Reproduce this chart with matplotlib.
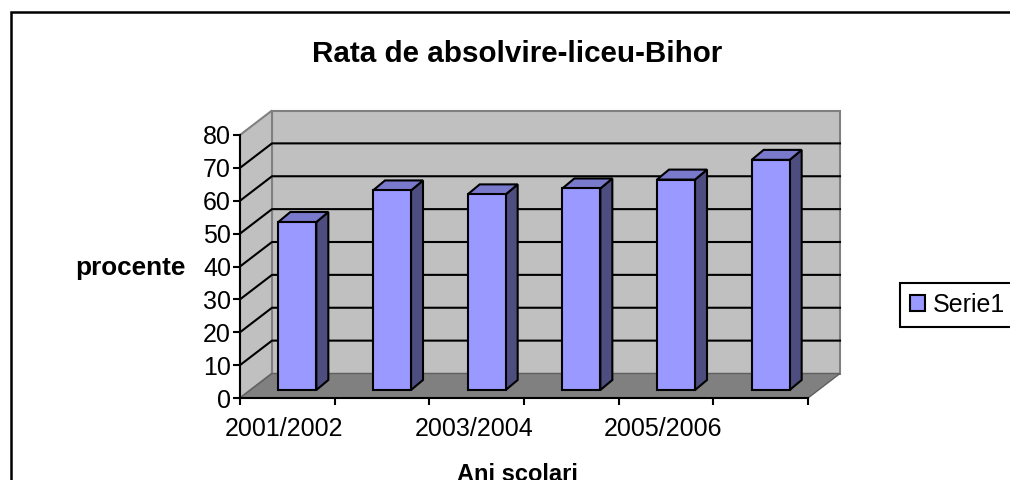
import matplotlib
matplotlib.use('Agg')
import matplotlib.pyplot as plt
from matplotlib.patches import Polygon, Rectangle

plt.rcParams['font.family'] = ['Liberation Sans', 'DejaVu Sans']

CATEGORIES = ['2001/2002', '2002/2003', '2003/2004', '2004/2005', '2005/2006', '2006/2007']
VALUES = [51.1, 60.7, 59.5, 61.3, 64, 70]
Y_TICKS = [0, 10, 20, 30, 40, 50, 60, 70, 80]

WIDTH, HEIGHT = 1010, 480
FRONT_LEFT, FRONT_RIGHT = 240, 808
FRONT_BOTTOM, FRONT_TOP = 398, 135

BAR_FRONT = '#9999FF'
BAR_TOP = '#7A7ACC'
BAR_SIDE = '#4D4D80'
WALL = '#C0C0C0'
FLOOR = '#808080'
EDGE = '#808080'

fig = plt.figure(figsize=(WIDTH / 100, HEIGHT / 100), dpi=100)
fig.patch.set_facecolor('white')
ax = fig.add_axes([FRONT_LEFT / WIDTH, 1 - FRONT_BOTTOM / HEIGHT,
                   (FRONT_RIGHT - FRONT_LEFT) / WIDTH,
                   (FRONT_BOTTOM - FRONT_TOP) / HEIGHT])
ax.set_xlim(0, len(CATEGORIES))
ax.set_ylim(0, Y_TICKS[-1])
ax.patch.set_visible(False)

# pixels to data units, for the fake 3D depth
px_x = len(CATEGORIES) / (FRONT_RIGHT - FRONT_LEFT)
px_y = Y_TICKS[-1] / (FRONT_BOTTOM - FRONT_TOP)
dx, dy = 32 * px_x, 24.5 * px_y
top = Y_TICKS[-1]
n = len(CATEGORIES)


def add_poly(points, color, edge, lw, z):
    ax.add_patch(Polygon(points, closed=True, facecolor=color, edgecolor=edge,
                         linewidth=lw, zorder=z, clip_on=False, joinstyle='miter'))


# walls and floor
add_poly([(dx, dy), (n + dx, dy), (n + dx, top + dy), (dx, top + dy)], WALL, EDGE, 1.5, 1)
add_poly([(0, 0), (dx, dy), (dx, top + dy), (0, top)], WALL, EDGE, 1.5, 1)
add_poly([(0, 0), (n, 0), (n + dx, dy), (dx, dy)], FLOOR, '#606060', 1, 1)

# gridlines on back and left wall
for v in Y_TICKS[1:-1]:
    ax.plot([0, dx, n + dx], [v, v + dy, v + dy], color='black', lw=1.5,
            zorder=2, clip_on=False, solid_joinstyle='miter')

# bars
bar_w = 38 * px_x
off_x, off_y = 10 * px_x, 8 * px_y
side_x, side_y = 12 * px_x, 10 * px_y
for i, v in enumerate(VALUES):
    x0 = i + 0.5 - bar_w / 2 + off_x
    x1 = x0 + bar_w
    y0 = off_y
    y1 = v + off_y
    add_poly([(x1, y0), (x1 + side_x, y0 + side_y), (x1 + side_x, y1 + side_y), (x1, y1)],
             BAR_SIDE, 'black', 1.5, 3)
    add_poly([(x0, y1), (x1, y1), (x1 + side_x, y1 + side_y), (x0 + side_x, y1 + side_y)],
             BAR_TOP, 'black', 1.5, 3)
    ax.bar(x0, v, width=bar_w, bottom=y0, align='edge', color=BAR_FRONT,
           edgecolor='black', linewidth=1.5, zorder=4, clip_on=False)

# axes
for s in ['top', 'right']:
    ax.spines[s].set_visible(False)
for s in ['left', 'bottom']:
    ax.spines[s].set_linewidth(1.5)
    ax.spines[s].set_zorder(5)
ax.set_yticks(Y_TICKS)
ax.tick_params(axis='y', labelsize=18, length=5, width=1.5, pad=1.5)
ax.set_xticks(range(n + 1))
ax.set_xticklabels([])
ax.set_xticks([i + 0.5 - 3 * px_x for i in range(n)], minor=True)
ax.set_xticklabels([c if i % 2 == 0 else '' for i, c in enumerate(CATEGORIES)],
                   minor=True, fontsize=18)
ax.tick_params(axis='x', which='major', length=5, width=1.5)
ax.tick_params(axis='x', which='minor', length=0, pad=13.5)

# titles
fig.text(517 / WIDTH, 1 - 54.5 / HEIGHT, 'Rata de absolvire-liceu-Bihor', ha='center',
         va='center', fontsize=21.3, fontweight='bold')
fig.text(130 / WIDTH, 1 - 268 / HEIGHT, 'procente', ha='center', va='center',
         fontsize=18.8, fontweight='bold')
fig.text(517 / WIDTH, 1 - 481 / HEIGHT, 'Ani scolari', ha='center', va='baseline',
         fontsize=17, fontweight='bold')

# legend, runs past the right side of the picture like the border does
legend = fig.legend([Rectangle((0, 0), 1, 1, facecolor=BAR_FRONT, edgecolor='black', linewidth=1.5)],
                    ['Serie1'], loc='center left',
                    bbox_to_anchor=(900 / WIDTH, 1 - 304.5 / HEIGHT), fontsize=18,
                    frameon=True, fancybox=False, framealpha=1, edgecolor='black',
                    handlelength=0.6, handleheight=0.6, handletextpad=0.32,
                    borderaxespad=0, borderpad=0.4)
legend.get_frame().set_linewidth(1.5)

# chart area border, open on the right and bottom
fig.add_artist(plt.Line2D([11 / WIDTH, 11 / WIDTH, 1], [0, 1 - 11.5 / HEIGHT, 1 - 11.5 / HEIGHT],
                          color='black', lw=1.8, solid_joinstyle='miter'))

fig.savefig('out.png', dpi=100)
